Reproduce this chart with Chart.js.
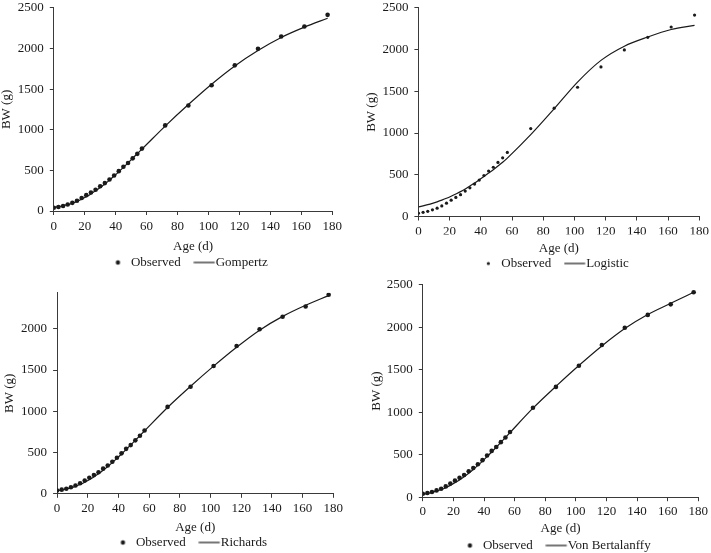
<!DOCTYPE html>
<html><head><meta charset="utf-8">
<script src="https://cdn.jsdelivr.net/npm/chart.js@4.4.1/dist/chart.umd.min.js"></script>
<style>
html,body{margin:0;padding:0;background:#fff;width:711px;height:553px;overflow:hidden;}
.p{position:absolute;}
canvas{display:block;}
</style></head><body>
<div class="p" id="c1"><canvas id="k1"></canvas></div>
<div class="p" id="c2"><canvas id="k2"></canvas></div>
<div class="p" id="c3"><canvas id="k3"></canvas></div>
<div class="p" id="c4"><canvas id="k4"></canvas></div>
<script>
// ---- data ----
const ages = [0,3,6,9,12,15,18,21,24,27,30,33,36,39,42,45,48,51,54,57,72,87,102,117,132,147,162,177];
const observed = [40,50,62,80,100,127,160,195,228,262,305,343,388,436,490,545,590,648,703,768,1053,1298,1548,1792,1995,2146,2270,2413];
const gompertz = [45,54,65,79,96,118,145,175,210,248,289,333,380,430,482,536,592,649,707,762,1045,1310,1560,1785,1975,2135,2262,2372];
const logistic = [115,128,142,158,176,196,218,243,270,298,330,365,400,440,480,520,560,605,650,700,980,1290,1610,1870,2040,2150,2240,2290];
const richards = [38,47,58,72,90,112,140,171,205,243,285,330,378,429,482,536,592,649,706,763,1046,1303,1547,1776,1983,2150,2285,2402];
const vonBertalanffy = [32,44,57,72,90,112,139,169,203,240,281,326,374,424,477,532,588,645,703,761,1048,1305,1550,1780,1985,2150,2282,2412];
const xTicks = [0,20,40,60,80,100,120,140,160,180];
const yTicks = [0,500,1000,1500,2000,2500];
const xTitle = 'Age (d)';
const yTitle = 'BW (g)';
const obsLabel = 'Observed';

// ---- style ----
const FONT = {family:"'Liberation Serif','Times New Roman',serif", size:13};
const INK = '#1a1a1a';
const AX = '#3a3a3a';
const P = 22.5;
const YPAD = 6;

function makeDot(r){
  const c=document.createElement('canvas'); c.width=14; c.height=8;
  const g=c.getContext('2d'); g.fillStyle=INK; g.beginPath(); g.arc(3.5,4,r,0,Math.PI*2); g.fill(); return c;
}
function makeLine(){
  const c=document.createElement('canvas'); c.width=26; c.height=4;
  const g=c.getContext('2d'); g.strokeStyle=INK; g.lineWidth=1.2; g.beginPath(); g.moveTo(0.5,2); g.lineTo(21.5,2); g.stroke(); return c;
}

function panel(n, fitName, fitVals, spec){
  const cx = spec.yTitleX - 7.8, cy = spec.T - 7.8 - YPAD;
  const h = spec.legY - spec.B - P - 6.5;
  const tpad = spec.B + h - 7.8 - spec.titleY;
  const W = Math.round(spec.R + spec.rp - cx);
  const H = Math.round((spec.B - cy) + h + 13 + P + 10);
  const box = document.getElementById('c'+n);
  box.style.left = cx+'px'; box.style.top = cy+'px';
  const cv = document.getElementById('k'+n);
  cv.width = W; cv.height = H; cv.style.width = W+'px'; cv.style.height = H+'px';
  const dotImg = makeDot(spec.legR), lineImg = makeLine();
  new Chart(cv, {
    type:'scatter',
    data:{datasets:[
      {label:obsLabel, data:ages.map((a,i)=>({x:a,y:observed[i]})), showLine:false,
       pointRadius:spec.r, pointHoverRadius:spec.r, pointBackgroundColor:INK, pointBorderWidth:0, pointStyle:'circle', order:0},
      {label:fitName, data:ages.map((a,i)=>({x:a,y:fitVals[i]})), showLine:true, borderColor:INK, borderWidth:1.2,
       pointRadius:0, tension:0.4, cubicInterpolationMode:'monotone', fill:false, order:1}
    ]},
    options:{
      responsive:false, animation:false, devicePixelRatio:1,
      layout:{padding:0},
      plugins:{
        tooltip:{enabled:false},
        legend:{position:'bottom', fullSize:false, align:'center',
          labels:{usePointStyle:true, boxWidth:6, boxHeight:13, padding:P, font:FONT, color:INK,
            generateLabels:()=>[
              {text:obsLabel, pointStyle:dotImg, datasetIndex:0, fontColor:INK, hidden:false, lineWidth:0},
              {text:fitName, pointStyle:lineImg, datasetIndex:1, fontColor:INK, hidden:false, lineWidth:0}
            ]}}
      },
      scales:{
        x:{type:'linear', position:'bottom', min:0, max:180,
          afterBuildTicks:s=>{s.ticks = xTicks.map(v=>({value:v}));},
          afterFit:s=>{s.height = h;},
          ticks:{font:FONT, color:INK, padding:spec.tp, maxRotation:0, autoSkip:false, callback:v=>String(v)},
          grid:{display:true, drawOnChartArea:false, drawTicks:true, tickLength:4, color:AX, lineWidth:1},
          border:{display:true, color:AX, width:1},
          title:{display:true, text:xTitle, font:FONT, color:INK, padding:{top:0,bottom:tpad}}},
        y:{type:'linear', position:'left', min:0, max:spec.ymax,
          afterBuildTicks:s=>{s.ticks = yTicks.filter(v=>v<=spec.ymax).map(v=>({value:v}));},
          afterFit:s=>{s.width = spec.L - cx;},
          ticks:{font:FONT, color:INK, padding:YPAD, autoSkip:false, callback:v=>String(v)},
          grid:{display:true, drawOnChartArea:false, drawTicks:true, tickLength:4, color:AX, lineWidth:1},
          border:{display:true, color:AX, width:1},
          title:{display:true, text:yTitle, font:FONT, color:INK, padding:{top:0,bottom:0}}}
      }
    }
  });
}

panel(1,'Gompertz',gompertz,{L:54,R:332,T:7.3,B:210.5,titleY:246,legY:262,yTitleX:7,ymax:2500,rp:13.75,r:2.3,legR:2.2,tp:4});
panel(2,'Logistic',logistic,{L:418.3,R:699,T:7.3,B:216,titleY:248,legY:263,yTitleX:371.7,ymax:2500,rp:12.75,r:1.6,legR:1.6,tp:3});
panel(3,'Richards',richards,{L:57.3,R:333,T:293,B:494.3,titleY:528,legY:543,yTitleX:10,ymax:2436,rp:12.75,r:2.3,legR:2.2,tp:3});
panel(4,'Von Bertalanffy',vonBertalanffy,{L:422.7,R:698.3,T:284.5,B:496.7,titleY:528,legY:545,yTitleX:376.7,ymax:2500,rp:12.75,r:2.3,legR:2.2,tp:3});
</script>
</body></html>
